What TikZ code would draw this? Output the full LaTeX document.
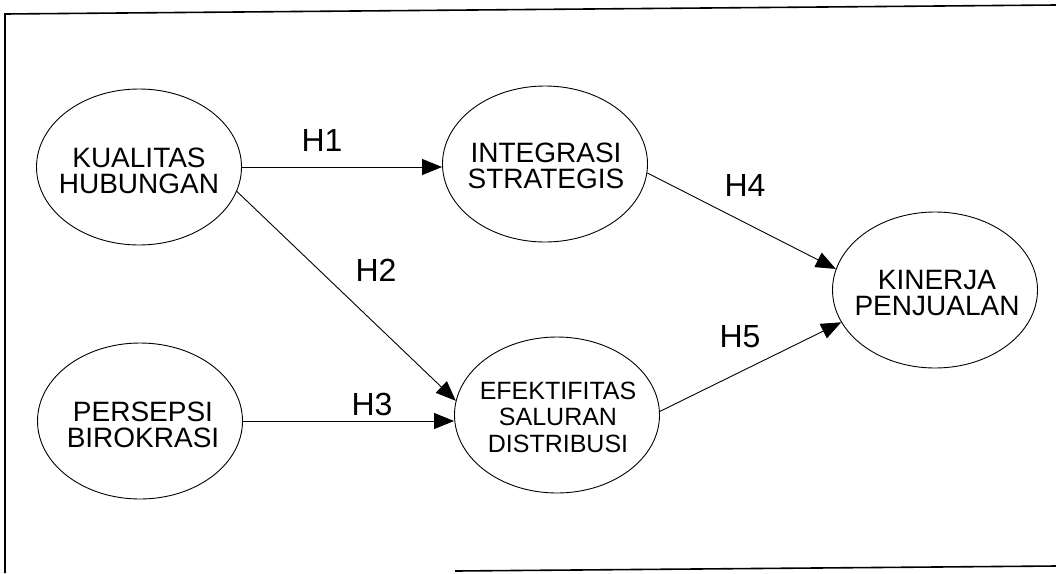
\documentclass[tikz,border=0pt]{standalone}
\usepackage{fontspec}
\setmainfont{Liberation Sans}
\usetikzlibrary{shapes.geometric,arrows.meta}
\begin{document}
\begin{tikzpicture}[x=1pt,y=-1pt,
  var/.style={draw, ellipse, line width=0.9pt, minimum width=205pt, minimum height=156pt, inner sep=0pt},
  vtext/.style={align=center, font=\fontsize{28}{26}\selectfont, inner sep=0pt},
  vtextsm/.style={align=center, font=\fontsize{25}{26.5}\selectfont, inner sep=0pt},
  hlab/.style={font=\fontsize{32}{32}\selectfont, inner sep=0pt},
  link/.style={line width=0.9pt, -{Triangle[length=20pt,width=16pt]}},
  framepart/.style={line width=1.6pt}]
\useasboundingbox (0,0) rectangle (1056,573);
% frame (partially visible, as in the scan)
\draw[framepart] (1056,5) -- (5,14) -- (5,573);
\draw[framepart] (455,571) -- (1056,566);
% variables
\node[var] (k)  at (139,167) {};
\node[var] (i)  at (545,164) {};
\node[var] (p)  at (140,421) {};
\node[var] (e)  at (557,415) {};
\node[var] (kn) at (935,290) {};
\node[vtext]   (kt)  at (139,171) {KUALITAS\\HUBUNGAN};
\node[vtext]   (it)  at (546,166) {INTEGRASI\\STRATEGIS};
\node[vtext]   (pt)  at (143,425) {PERSEPSI\\BIROKRASI};
\node[vtextsm] (et)  at (558,417) {EFEKTIFITAS\\SALURAN\\DISTRIBUSI};
\node[vtext]   (knt) at (937,293) {KINERJA\\PENJUALAN};
% paths
\draw[link] (k.east) -- (k.east -| i.west);
\draw[link] (k.-14) -- (e.172);
\draw[link] (p.east) -- (p.east -| e.west);
\draw[link] (i.-5) -- (kn.168);
\draw[link] (e.2) -- (kn.-161);
% labels
\node[hlab] (h1) at (322,140) {H1};
\node[hlab] (h2) at (376,270) {H2};
\node[hlab] (h3) at (372,404) {H3};
\node[hlab] (h4) at (745,185) {H4};
\node[hlab] (h5) at (740,337) {H5};
\end{tikzpicture}
\end{document}
